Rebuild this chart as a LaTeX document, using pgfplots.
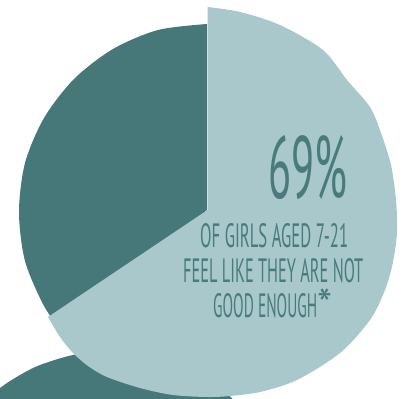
\documentclass[border=0pt]{standalone}
\usepackage{pgfplots}
\pgfplotsset{compat=1.18}
\usepackage{fontspec}
\usepackage{graphicx}
\newfontfamily\amfont{PT Sans}
\definecolor{darkc}{RGB}{71,120,121}
\definecolor{lightc}{RGB}{168,200,204}
\definecolor{textc}{RGB}{74,123,124}
\begin{document}
\begin{tikzpicture}
\begin{axis}[scale only axis, width=405pt, height=399pt,
  xmin=0, xmax=405, ymin=0, ymax=399, y dir=reverse,
  hide axis, clip=true]
% next pie, partly visible at the bottom
\addplot[fill=darkc, draw=none, smooth] coordinates {(-20,406) (0,388) (20,375) (40,365) (73,355) (110,351) (150,356) (190,370) (220,388) (240,406)} -- cycle;
% dark slice (31%)
\addplot[fill=darkc, draw=none, smooth] coordinates {(207,24) (158,30) (113,49) (74,79) (44,118) (25,163) (19,212) (25,261) (44,306) (63,333)} -- (axis cs:207,210) -- cycle;
% light slice (69%)
\addplot[fill=lightc, draw=none, smooth] coordinates {(207.5,7) (240,12) (280,25) (323,50) (347,80) (370,107) (381,133) (391,165) (396,200) (397,232) (393,262) (385,290) (370,320) (340,353) (297,380) (260,392) (230,396) (207,397) (173,395) (140,388) (107,377) (88,366) (73,353) (60,337) (48,317)} -- (axis cs:207.5,210) -- cycle;
% labels
\node[anchor=base west, inner sep=0, text=textc] at (268,198) {\resizebox{79pt}{63pt}{\amfont 69\%}};
\node[anchor=base west, inner sep=0, text=textc] at (200,247) {\resizebox{148pt}{24pt}{\amfont OF GIRLS AGED 7-21}};
\node[anchor=base west, inner sep=0, text=textc] at (183,282) {\resizebox{180pt}{24pt}{\amfont FEEL LIKE THEY ARE NOT}};
\node[anchor=base west, inner sep=0, text=textc] at (213,317) {\resizebox{104pt}{24pt}{\amfont GOOD ENOUGH}};
\node[anchor=north west, inner sep=0, text=textc] at (317,289) {\resizebox{15pt}{!}{\amfont *}};
\end{axis}
\pgfresetboundingbox
\path (0,0) rectangle (405pt,399pt);
\end{tikzpicture}
\end{document}
